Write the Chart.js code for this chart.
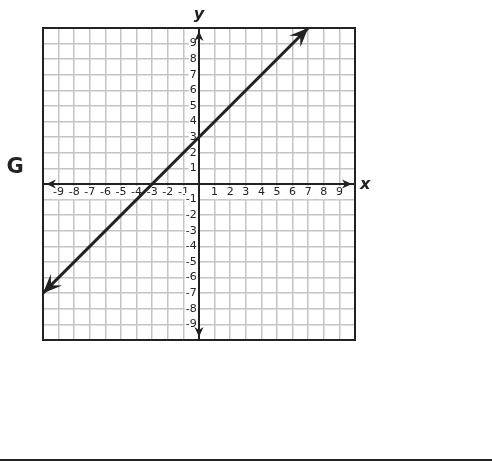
<!DOCTYPE html>
<html>
<head>
<meta charset="utf-8">
<script src="https://cdn.jsdelivr.net/npm/chart.js@4/dist/chart.umd.min.js"></script>
<style>
html, body { margin: 0; padding: 0; background: #fff; }
#wrap { width: 492px; height: 472px; }
</style>
</head>
<body>
<div id="wrap"><canvas id="graph" width="492" height="472"></canvas></div>
<script>
// grid range and the graphed line y = x + 3 (end points)
const axisMin = -10;
const axisMax = 10;
const lineX = [-10, 7];
const lineY = [-7, 10];
const panelLabel = 'G';

const ink = '#222';
const gridGray = '#c4c4c4';
const tickFont = { family: 'DejaVu Sans', size: 11 };

// hide labels for 0 and the two edges
const showTick = v => v !== 0 && Math.abs(v) !== axisMax;

function arrowHead(ctx, x, y, angle, len, half, notch) {
  ctx.save();
  ctx.translate(x, y);
  ctx.rotate(angle);
  ctx.beginPath();
  ctx.moveTo(0, 0);
  ctx.lineTo(-len, -half);
  ctx.lineTo(-len * notch, 0);
  ctx.lineTo(-len, half);
  ctx.closePath();
  ctx.fill();
  ctx.restore();
}

const decorations = {
  id: 'decorations',
  afterDatasetsDraw(chart) {
    const ctx = chart.ctx;
    const a = chart.chartArea;
    const xs = chart.scales.x, ys = chart.scales.y;
    const ox = xs.getPixelForValue(0), oy = ys.getPixelForValue(0);
    ctx.save();
    ctx.fillStyle = ink;
    ctx.strokeStyle = ink;

    // frame
    ctx.lineWidth = 2;
    ctx.strokeRect(a.left, a.top, a.right - a.left, a.bottom - a.top);

    // axis arrows
    arrowHead(ctx, a.right - 3, oy, 0, 10, 4.5, 0.7);
    arrowHead(ctx, a.left + 3, oy, Math.PI, 10, 4.5, 0.7);
    arrowHead(ctx, ox, a.top + 3, -Math.PI / 2, 10, 4.5, 0.7);
    arrowHead(ctx, ox, a.bottom - 3, Math.PI / 2, 10, 4.5, 0.7);

    // arrows on the graphed line
    const n = lineX.length - 1;
    const x0 = xs.getPixelForValue(lineX[0]), y0 = ys.getPixelForValue(lineY[0]);
    const x1 = xs.getPixelForValue(lineX[n]), y1 = ys.getPixelForValue(lineY[n]);
    const ang = Math.atan2(y1 - y0, x1 - x0);
    arrowHead(ctx, x1, y1, ang, 19, 8, 0.6);
    arrowHead(ctx, x0, y0, ang + Math.PI, 19, 8, 0.6);

    // axis names and panel letter
    ctx.font = 'italic bold 16px "DejaVu Sans"';
    ctx.textAlign = 'center';
    ctx.textBaseline = 'alphabetic';
    ctx.fillText('y', ox, a.top - 9);
    ctx.textAlign = 'left';
    ctx.fillText('x', a.right + 5, oy + 5);
    ctx.font = 'bold 21px "DejaVu Sans"';
    ctx.textAlign = 'center';
    ctx.textBaseline = 'middle';
    ctx.fillText(panelLabel, 15, 168);

    // rule at the bottom of the panel
    ctx.fillRect(0, 459, chart.width, 2);
    ctx.restore();
  }
};

function axisOpts(pos, isY) {
  return {
    type: 'linear',
    min: axisMin,
    max: axisMax,
    position: pos,
    grid: { color: gridGray, lineWidth: 1.5, drawTicks: false, z: -2 },
    border: { color: ink, width: 2, z: 0 },
    ticks: {
      stepSize: 1,
      autoSkip: false,
      maxRotation: 0,
      padding: 2,
      z: -1,
      color: ink,
      font: tickFont,
      showLabelBackdrop: c => showTick(c.tick.value),
      backdropColor: '#fff',
      backdropPadding: isY ? { left: 1, right: 0, top: 0, bottom: 0 } : { left: 1, right: 1, top: 0, bottom: 0 },
      callback: v => showTick(v) ? (isY ? v + '\u2009' : String(v)) : null
    }
  };
}

new Chart(document.getElementById('graph'), {
  type: 'scatter',
  data: {
    datasets: [{
      data: lineX.map((x, i) => ({ x: x, y: lineY[i] })),
      showLine: true,
      borderColor: ink,
      borderWidth: 3,
      pointRadius: 0,
      fill: false
    }]
  },
  options: {
    responsive: false,
    animation: false,
    layout: { padding: { left: 43, top: 28, right: 137, bottom: 132 } },
    plugins: { legend: { display: false }, tooltip: { enabled: false } },
    scales: {
      x: axisOpts({ y: 0 }, false),
      y: axisOpts({ x: 0 }, true)
    }
  },
  plugins: [decorations]
});
</script>
</body>
</html>
